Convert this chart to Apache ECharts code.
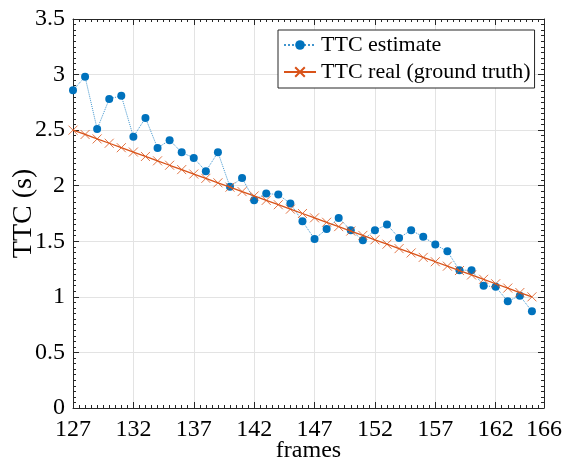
<!DOCTYPE html>
<html>
<head>
<meta charset="utf-8">
<script src="https://cdn.jsdelivr.net/npm/echarts@6/dist/echarts.min.js"></script>
<style>
html,body{margin:0;padding:0;background:#fff;}
#chart{width:565px;height:463px;}
</style>
</head>
<body>
<div id="chart"></div>
<script>
const frames = [127,128,129,130,131,132,133,134,135,136,137,138,139,140,141,142,143,144,145,146,147,148,149,150,151,152,153,154,155,156,157,158,159,160,161,162,163,164,165];
const ttcEstimate = [2.86,2.98,2.51,2.78,2.81,2.44,2.61,2.34,2.41,2.30,2.25,2.13,2.30,1.99,2.07,1.87,1.93,1.92,1.84,1.68,1.52,1.61,1.71,1.60,1.51,1.60,1.65,1.53,1.60,1.54,1.47,1.41,1.24,1.24,1.10,1.09,0.96,1.01,0.87];
const ttcReal = [2.500,2.461,2.421,2.382,2.342,2.303,2.263,2.224,2.184,2.145,2.105,2.066,2.026,1.987,1.947,1.908,1.868,1.829,1.789,1.750,1.711,1.671,1.632,1.592,1.553,1.513,1.474,1.434,1.395,1.355,1.316,1.276,1.237,1.197,1.158,1.118,1.079,1.039,1.000];
const seriesNames = ['TTC estimate', 'TTC real (ground truth)'];
const xTitle = 'frames';
const yTitle = 'TTC (s)';

const FONT = 'Liberation Serif';
const AXIS = '#262626';
const GRID = '#e3e3e3';
const BLUE = '#0072BD';
const ORANGE = '#D95319';

const chart = echarts.init(document.getElementById('chart'), null, {renderer: 'canvas'});

function axisCommon(showLabels) {
  return {
    axisLine: {show: true, onZero: false, lineStyle: {color: AXIS, width: 1}},
    axisTick: {show: true, inside: true, length: 6, lineStyle: {color: AXIS, width: 1}},
    minorTick: {show: true, splitNumber: 10, length: 3, lineStyle: {color: AXIS, width: 1}},
    axisLabel: {show: showLabels, color: '#000', fontFamily: FONT, fontSize: 24},
  };
}

const option = {
  animation: false,
  backgroundColor: '#fff',
  grid: {left: 73, right: 21, top: 19, bottom: 55, containLabel: false, outerBoundsMode: 'none'},
  legend: {
    left: 278, top: 30, orient: 'vertical',
    borderColor: AXIS, borderWidth: 1, backgroundColor: '#fff',
    padding: [4, 4, 5, 5], itemGap: 5, itemWidth: 32, itemHeight: 12,
    textStyle: {fontFamily: FONT, fontSize: 22, color: '#000'},
    data: seriesNames
  },
  xAxis: [
    Object.assign(axisCommon(true), {
      type: 'value', min: 127, max: 166, interval: 5, position: 'bottom',
      name: xTitle, nameLocation: 'middle', nameGap: 31, nameMoveOverlap: false,
      nameTextStyle: {fontFamily: FONT, fontSize: 24, color: '#000'},
      axisLabel: {show: true, color: '#000', fontFamily: FONT, fontSize: 24, margin: 10},
      splitLine: {show: true, lineStyle: {color: GRID, width: 1}}
    }),
    Object.assign(axisCommon(false), {
      type: 'value', min: 127, max: 166, interval: 5, position: 'top',
      splitLine: {show: false}
    })
  ],
  yAxis: [
    Object.assign(axisCommon(true), {
      type: 'value', min: 0, max: 3.5, interval: 0.5, position: 'left',
      name: yTitle, nameLocation: 'middle', nameGap: 35, nameRotate: 90, nameMoveOverlap: false,
      nameTextStyle: {fontFamily: FONT, fontSize: 28, color: '#000'},
      axisLabel: {show: true, color: '#000', fontFamily: FONT, fontSize: 24, margin: 8},
      splitLine: {show: true, lineStyle: {color: GRID, width: 1}}
    }),
    Object.assign(axisCommon(false), {
      type: 'value', min: 0, max: 3.5, interval: 0.5, position: 'right',
      splitLine: {show: false}
    })
  ],
  series: [
    {
      name: seriesNames[0], type: 'line', xAxisIndex: 0, yAxisIndex: 0,
      data: frames.map((f, i) => [f, ttcEstimate[i]]),
      symbol: 'circle', symbolSize: 8, showSymbol: true,
      lineStyle: {color: BLUE, width: 1, type: 'dotted', opacity: 0.75},
      itemStyle: {color: BLUE},
      z: 2
    },
    {
      name: seriesNames[1], type: 'line', xAxisIndex: 0, yAxisIndex: 0,
      data: frames.map((f, i) => [f, ttcReal[i]]),
      symbol: 'path://M0,0L10,10M10,0L0,10', symbolSize: 9, showSymbol: true,
      lineStyle: {color: ORANGE, width: 1.3},
      itemStyle: {color: 'rgba(0,0,0,0)', borderColor: ORANGE, borderWidth: 0.8},
      z: 3
    }
  ]
};
chart.setOption(option);
</script>
</body>
</html>
